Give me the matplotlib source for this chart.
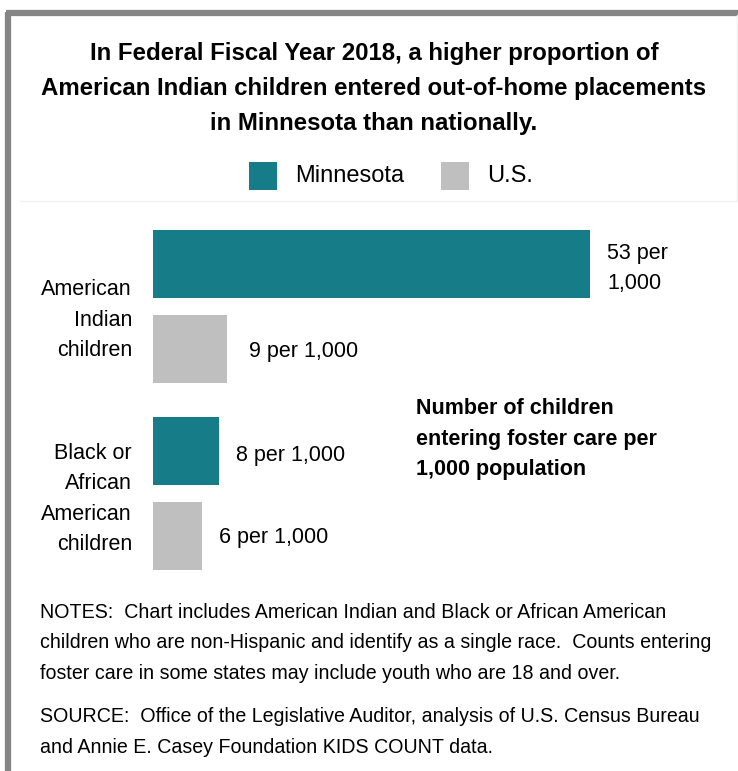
import matplotlib
matplotlib.use("Agg")
import matplotlib.pyplot as plt
from matplotlib import font_manager
from matplotlib.patches import Rectangle
from matplotlib.lines import Line2D

# ---- data ----
categories = ["American\nIndian\nchildren", "Black or\nAfrican\nAmerican\nchildren"]
series_names = ["Minnesota", "U.S."]
minnesota = [53, 8]
us = [9, 6]
value_labels_mn = ["53 per\n1,000", "8 per 1,000"]
value_labels_us = ["9 per 1,000", "6 per 1,000"]

title = ("In Federal Fiscal Year 2018, a higher proportion of\n"
         "American Indian children entered out-of-home placements\n"
         "in Minnesota than nationally.")
axis_note = "Number of children\nentering foster care per\n1,000 population"
notes = ("NOTES:  Chart includes American Indian and Black or African American\n"
         "children who are non-Hispanic and identify as a single race.  Counts entering\n"
         "foster care in some states may include youth who are 18 and over.")
source = ("SOURCE:  Office of the Legislative Auditor, analysis of U.S. Census Bureau\n"
          "and Annie E. Casey Foundation KIDS COUNT data.")

# ---- styling ----
TEAL = "#167C87"
GRAY = "#BFBFBF"
FRAME = "#858585"

available = {f.name for f in font_manager.fontManager.ttflist}
narrow = "Liberation Sans Narrow" if "Liberation Sans Narrow" in available else "Liberation Sans"
plt.rcParams["font.family"] = [narrow, "DejaVu Sans"]

W, H = 738, 771
fig = plt.figure(figsize=(W / 100, H / 100), dpi=100)
fig.patch.set_facecolor("white")


def fx(px):
    return px / W


def fy(py):
    return 1 - py / H


# frame along top and left edges
fig.add_artist(Line2D([fx(8), fx(8)], [fy(12), fy(H + 5)], color=FRAME, lw=4.5,
                      transform=fig.transFigure, solid_capstyle="butt"))
fig.add_artist(Line2D([fx(5.8), fx(W)], [fy(12.5), fy(12.5)], color=FRAME, lw=4.5,
                      transform=fig.transFigure, solid_capstyle="butt"))
# faint panel outline around the heading block
fig.add_artist(Line2D([fx(20), fx(W - 1)], [fy(201), fy(201)], color="#F2F2F2", lw=1,
                      transform=fig.transFigure))
fig.add_artist(Line2D([fx(W - 1.5), fx(W - 1.5)], [fy(15), fy(201)], color="#F2F2F2", lw=1,
                      transform=fig.transFigure))

# title
fig.text(fx(374), fy(88.5), title, ha="center", va="center", fontsize=17.3,
         fontweight="bold", linespacing=1.65, color="black")

# legend
leg_items = [(249, TEAL, series_names[0], 295), (441, GRAY, series_names[1], 487)]
for x0, col, name, tx in leg_items:
    fig.add_artist(Rectangle((fx(x0), fy(190)), 28 / W, 28 / H, transform=fig.transFigure,
                             facecolor=col, edgecolor="none"))
    fig.text(fx(tx), fy(176), name, ha="left", va="center", fontsize=17, color="black")

# bar axes: y in pixel rows, x in data units
x_left_px, x_right_px = 153, W
px_per_unit = (590 - 153) / minnesota[0]
ax_top, ax_bot = 200, 590
ax = fig.add_axes([fx(x_left_px), fy(ax_bot), (x_right_px - x_left_px) / W, (ax_bot - ax_top) / H])
ax.set_xlim(0, (x_right_px - x_left_px) / px_per_unit)
ax.set_ylim(ax_bot, ax_top)
ax.axis("off")

group_centers = [306.5, 493.5]
bar_h = 68
offset = 42.5
mn_y = [c - offset for c in group_centers]
us_y = [c + offset for c in group_centers]
ax.barh(mn_y, minnesota, height=bar_h, color=TEAL, edgecolor="none")
ax.barh(us_y, us, height=bar_h, color=GRAY, edgecolor="none")

label_pad = 17 / px_per_unit
for y, v, lab in zip(mn_y, minnesota, value_labels_mn):
    ax.text(v + label_pad, y + 4.5, lab, ha="left", va="center", fontsize=15.5,
            linespacing=1.58, color="black")
for y, v, lab, extra in zip(us_y, us, value_labels_us, [5, 0]):
    ax.text(v + label_pad + extra / px_per_unit, y + 2, lab, ha="left", va="center",
            fontsize=15.5, color="black")

# category labels
cat_y = [320, 499]
for y, cat in zip(cat_y, categories):
    fig.text(fx(132), fy(y), cat, ha="right", va="center", fontsize=15.5,
             linespacing=1.6, color="black")

# measure annotation
fig.text(fx(416), fy(439), axis_note, ha="left", va="center", fontsize=15.5,
         fontweight="bold", linespacing=1.6, color="black")

# notes and source
fig.text(fx(40), fy(643), notes, ha="left", va="center", fontsize=14.1,
         linespacing=1.74, color="black")
fig.text(fx(40), fy(732), source, ha="left", va="center", fontsize=14.1,
         linespacing=1.74, color="black")

fig.savefig("out.png", dpi=100, facecolor="white")
